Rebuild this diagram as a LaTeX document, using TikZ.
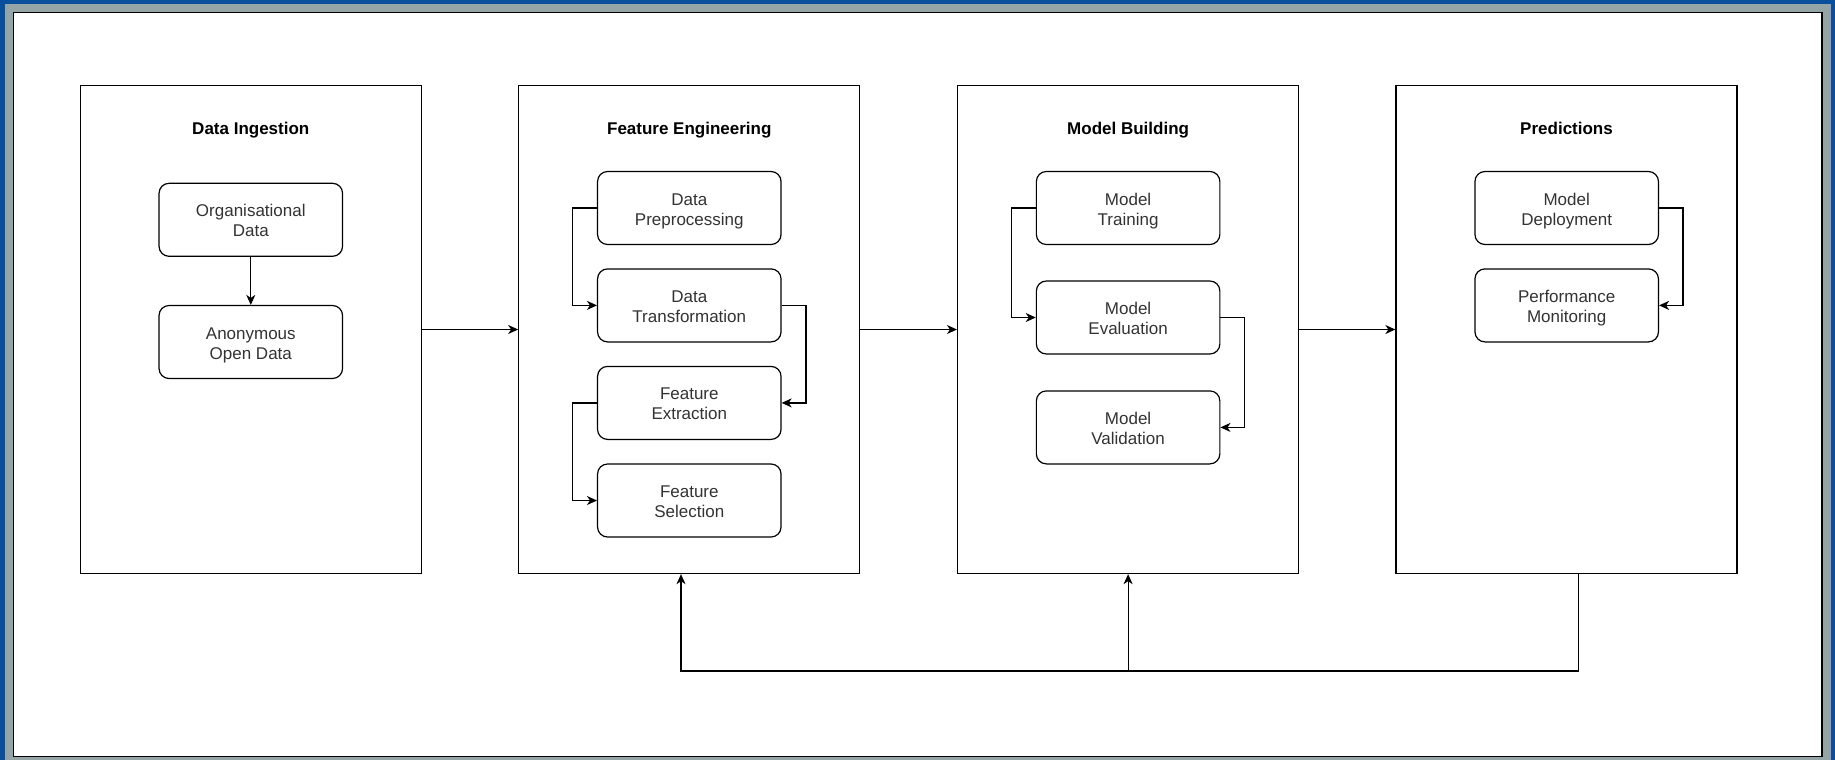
\documentclass[tikz,border=0pt]{standalone}
\usepackage{fontspec}
\setmainfont{Liberation Sans}
\usetikzlibrary{arrows.meta}
\definecolor{frameblue}{HTML}{0A4F9E}
\definecolor{framegray}{HTML}{95A5A6}
\definecolor{txt}{HTML}{333333}
\begin{document}
\begin{tikzpicture}[x=1pt,y=-1pt,
  stage/.style={draw=black, line width=1.3pt, minimum width=341pt, minimum height=488pt, inner sep=0pt},
  stepbox/.style={draw=black, rounded corners=10pt, line width=1.2pt, minimum width=183.5pt, minimum height=73pt, align=center, text=txt, font=\fontsize{17}{20}\selectfont, inner sep=0pt, text height=37pt, text depth=3pt},
  ttl/.style={font=\bfseries\fontsize{17}{21}\selectfont, text=black, inner sep=0pt, anchor=base},
  arr/.style={-{Stealth[length=10pt,width=9pt,inset=3pt]}, line width=1.2pt},
  conn/.style={line width=1.2pt}]
\useasboundingbox (0,0) rectangle (1835,760);
% frame
\fill[frameblue] (0,0) rectangle (1835,760);
\fill[framegray] (5,4) rectangle (1831,760);
\filldraw[fill=white, draw=black, line width=1.5pt] (13.5,12.5) rectangle (1822,756.5);

% stages
\node[stage] (b1) at (250.8,329.5) {};
\node[stage] (b2) at (689.3,329.5) {};
\node[stage] (b3) at (1128.1,329.5) {};
\node[stage] (b4) at (1566.5,329.5) {};

\node[ttl] (t1) at (250.8,134.3) {Data Ingestion};
\node[ttl] (t2) at (689.3,134.3) {Feature Engineering};
\node[ttl] (t3) at (1128.1,134.3) {Model Building};
\node[ttl] (t4) at (1566.5,134.3) {Predictions};

% steps
\node[stepbox] (od) at (250.8,219.8) {Organisational\\Data};
\node[stepbox] (ao) at (250.8,342) {Anonymous\\Open Data};

\node[stepbox] (dp) at (689.3,208) {Data\\Preprocessing};
\node[stepbox] (dt) at (689.3,305.4) {Data\\Transformation};
\node[stepbox] (fe) at (689.3,402.9) {Feature\\Extraction};
\node[stepbox] (fs) at (689.3,500.5) {Feature\\Selection};

\node[stepbox] (mt) at (1128.1,208) {Model\\Training};
\node[stepbox] (me) at (1128.1,317.5) {Model\\Evaluation};
\node[stepbox] (mv) at (1128.1,427.4) {Model\\Validation};

\node[stepbox] (md) at (1566.7,208) {Model\\Deployment};
\node[stepbox] (pm) at (1566.7,305.4) {Performance\\Monitoring};

% inner connectors
\draw[arr] (od) -- (ao);
\draw[arr] (dp.west) -- ++(-24.4,0) |- (dt.west);
\draw[arr] (dt.east) -- ++(24.4,0) |- (fe.east);
\draw[arr] (fe.west) -- ++(-24.4,0) |- (fs.west);
\draw[arr] (mt.west) -- ++(-24,0) |- (me.west);
\draw[arr] (me.east) -- ++(24,0) |- (mv.east);
\draw[arr] (md.east) -- ++(24,0) |- (pm.east);

% stage connectors
\draw[arr] (b1.east) -- (b2.west);
\draw[arr] (b2.east) -- (b3.west);
\draw[arr] (b3.east) -- (b4.west);

% feedback
\coordinate (fbR) at (1578.5,671);
\coordinate (fbM) at (1128.1,671);
\coordinate (fbL) at (681,671);
\draw[arr] (b4.south -| fbR) -- (fbR) -- (fbL) -- (b2.south -| fbL);
\draw[arr] (fbM) -- (b3.south);
\end{tikzpicture}
\end{document}
